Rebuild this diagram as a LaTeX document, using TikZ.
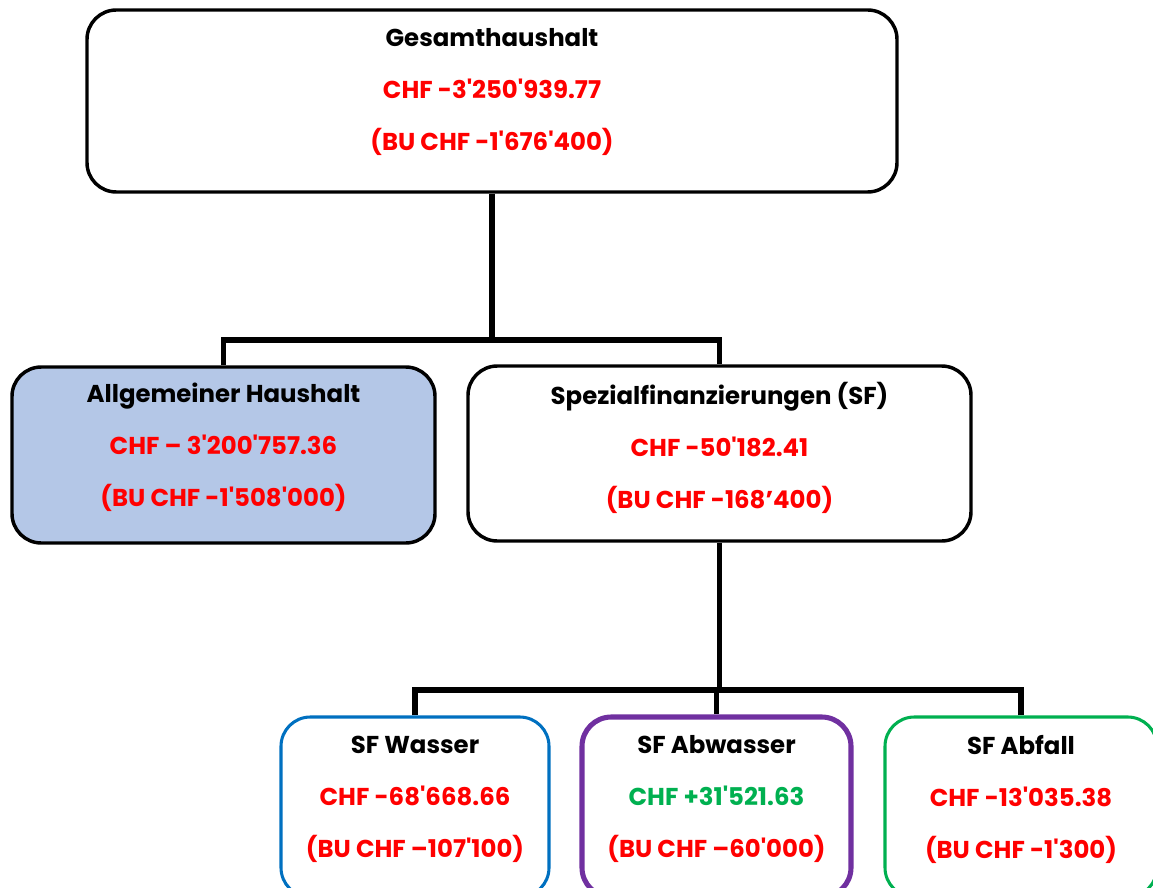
\documentclass[tikz,border=0pt]{standalone}
\usepackage{fontspec}
\newfontfamily\orgfont{Poppins}
\usetikzlibrary{positioning}
\definecolor{obRed}{HTML}{FF0000}
\definecolor{obGreen}{HTML}{00B050}
\definecolor{obBlue}{HTML}{0070C0}
\definecolor{obPurple}{HTML}{7030A0}
\definecolor{obFill}{HTML}{B4C7E7}

\begin{document}
\begin{tikzpicture}[x=0.75pt,y=-0.75pt,
  box/.style={draw=black, line width=2.6pt, rounded corners=22pt, inner sep=0pt},
  txt/.style={align=center, inner sep=0pt, font=\orgfont\bfseries\fontsize{18.3pt}{39pt}\selectfont},
  conn/.style={draw=black, line width=3.8pt}]
  \useasboundingbox (0,0) rectangle (1153,888);
  \clip (0,0) rectangle (1153,888);
  % kaesten
  \node[box, minimum width=607.5pt, minimum height=136.5pt] (ges) at (492,101) {};
  \node[box, fill=obFill, minimum width=317.25pt, minimum height=132pt] (allg) at (223.5,455) {};
  \node[box, minimum width=377.25pt, minimum height=131.25pt] (spez) at (719.5,453.5) {};
  \node[box, draw=obBlue, line width=2.3pt, minimum width=201pt, minimum height=135pt] (wass) at (415,807) {};
  \node[box, draw=obPurple, line width=3.8pt, minimum width=201.75pt, minimum height=135pt] (abw) at (716.5,807) {};
  \node[box, draw=obGreen, line width=2.3pt, minimum width=204pt, minimum height=135pt] (abf) at (1021,807) {};
  % texte
  \node[txt] (gesT) at ([yshift=6.5pt]ges.center) {Gesamthaushalt\\ \textcolor{obRed}{CHF -3'250'939.77}\\ \textcolor{obRed}{(BU CHF -1'676'400)}};
  \node[txt] (allgT) at ([yshift=5.5pt]allg.center) {Allgemeiner Haushalt\\ \textcolor{obRed}{CHF – 3'200'757.36}\\ \textcolor{obRed}{(BU CHF -1'508'000)}};
  \node[txt] (spezT) at ([yshift=4.5pt]spez.center) {Spezialfinanzierungen (SF)\\ \textcolor{obRed}{CHF -50'182.41}\\ \textcolor{obRed}{(BU CHF -168’400)}};
  \node[txt] (wassT) at ([yshift=5.75pt]wass.center) {SF Wasser\\ \textcolor{obRed}{CHF -68'668.66}\\ \textcolor{obRed}{(BU CHF –107'100)}};
  \node[txt] (abwT) at ([yshift=5.75pt]abw.center) {SF Abwasser\\ \textcolor{obGreen}{CHF +31'521.63}\\ \textcolor{obRed}{(BU CHF –60'000)}};
  \node[txt] (abfT) at ([yshift=5.75pt]abf.center) {SF Abfall\\ \textcolor{obRed}{CHF -13'035.38}\\ \textcolor{obRed}{(BU CHF -1'300)}};
  % verbindungen
  \coordinate (bus1) at (492,340);
  \coordinate (bus2) at (719.5,690);
  \draw[conn] (ges.south) -- (bus1);
  \foreach \n in {allg,spez}{\draw[conn] (\n.north) |- (bus1);}
  \draw[conn] (spez.south) -- (bus2);
  \foreach \n in {wass,abw,abf}{\draw[conn] (\n.north) |- (bus2);}
\end{tikzpicture}
\end{document}
